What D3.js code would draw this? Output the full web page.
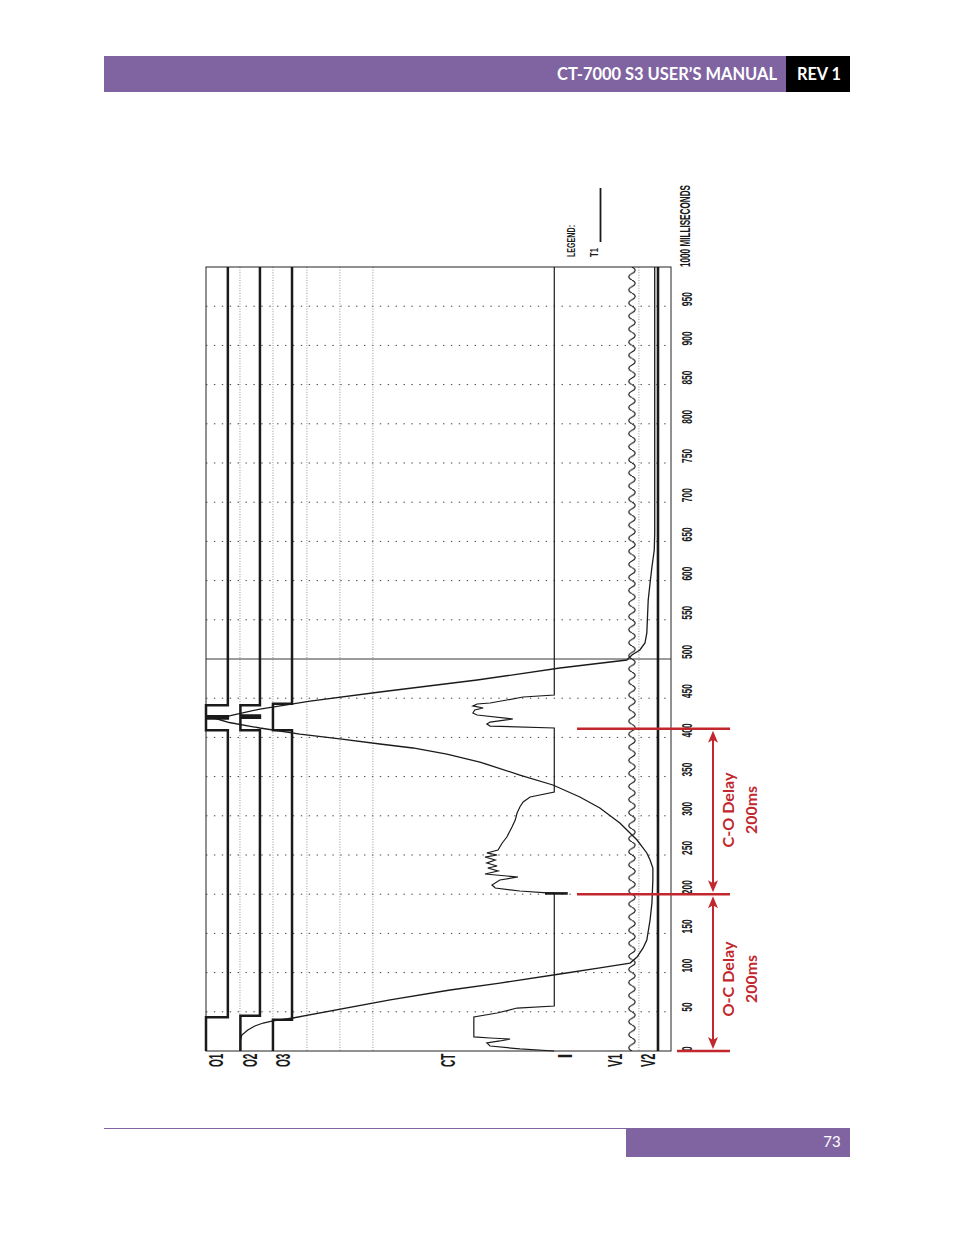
<!DOCTYPE html>
<html><head><meta charset="utf-8">
<script src="https://cdn.jsdelivr.net/npm/d3@7"></script>
<style>html,body{margin:0;padding:0;background:#fff;} svg{display:block;}</style>
</head><body>
<svg id="chart" width="954" height="1235"></svg>
<script>
// ================= DATA =================
const timeTicks = [0,50,100,150,200,250,300,350,400,450,500,550,600,650,700,750,800,850,900,950];
const timeTickLabels = ["0","50","100","150","200","250","300","350","400","450","500","550","600","650","700","750","800","850","900","950"];
const topTickLabel = "1000 MILLISECONDS";
const channelNames = ["O1","O2","O3","CT","I","V1","V2"];

// contact channels: transition times (ms) and state (0 open, 1 closed)
const o1Times  = [0, 43, 409, 424, 427, 441, 1000];
const o1States = [0, 1, 0, 1, 0, 1];
const o2Times  = [0, 45, 409, 425, 428, 441, 1000];
const o2States = [0, 1, 0, 1, 0, 1];
const o3Times  = [0, 40, 409, 443, 1000];
const o3States = [0, 1, 0, 1];

// travel T1 (time ms, position % of chart width)
const travelTimes = [0,14,20.4,26.8,31.9,35.7,38.3,42.1,65.1,77.8,86.7,98.2,105.9,112.2,119.9,131.4,141.6,167.1,188.8,218.1,233.4,243.6,252.6,269.1,290.8,310.0,324.0,339.3,352.0,368.6,378.8,386.5,391.6,398.0,404.3,412.0,419,423.5,428,436.2,446.4,457.9,473.2,488.5,498.7,505.1,511.5,520.4,533.2,575.3,597.0,617.3,639.0,660.7,1000];
const travelPos   = [7.4,7.4,7.7,9.0,10.5,12.3,14.4,18.7,39.6,52.5,63.2,76.1,84.7,91.2,92.7,94.0,94.8,95.5,95.9,96.1,96.1,95.5,94.8,92.7,89.0,84.7,80.4,74.6,67.5,58.9,51.8,44.5,37.4,28.8,20.2,11.6,5.0,2.4,5.5,11.6,22.4,37.4,58.3,76.1,90.5,91.6,93.3,94.4,94.8,95.1,95.5,95.9,96.4,96.5,96.5];

// coil current I (time ms, position %)
const coilTimes = [0,2.6,6.4,10.2,12.8,15.3,16.6,17.9,43.4,48.5,54.8,57.4,
  201.5,201.6,204.1,207.9,211.7,218.1,221.9,223.2,225.8,229.6,233.4,236.0,239.8,243.6,247.4,250.0,252.6,256.4,265.3,272.9,285.7,294.6,303.6,311.2,317.6,324.0,330.4,
  412.0,414.5,417.1,419.6,423.5,428.6,431.1,435.0,437.5,440.1,442.6,443.9,447.7,451.5,454.1,1000];
const coilPos = [74.9,67.5,61.1,60.4,63.2,65.4,61.1,57.6,57.6,62.6,66.9,74.9,
  74.9,73.3,67.5,62.2,61.5,63.2,67.1,64.7,60.0,62.8,60.6,62.6,60.4,62.2,60.0,62.6,60.4,62.8,63.7,64.7,65.8,66.5,66.9,67.5,68.2,69.7,74.9,
  74.9,61.1,60.4,61.1,66.0,58.3,57.4,57.8,59.6,57.4,58.3,61.1,64.7,68.2,74.9,74.9];
const coilMarkTime = [201];
const coilMarkSpan = [72.9, 77.8];

// V1 : AC voltage, V2 : steady level
const v1FrequencyHz = [60];
const v2Level = [97.2];

// annotations
const delayTimes = [411, 200, 0];
const delayLabels = [["C-O Delay","200ms"],["O-C Delay","200ms"]];

// ================= LAYOUT =================
const L = { left:206, right:671, top:267, bottom:1051 };
const contactLayout = { O1:[0,4.7], O2:[7.4,11.6], O3:[14.4,18.5] };
const guideLines = [7.3,14.4,21.7,28.8,35.9,93.1];
const v1Center = 91.6, v1Amp = 0.7;
const purple = "#8064A2", red = "#C1272D", ink = "#1a1a1a";

const svg = d3.select("#chart");
svg.append("rect").attr("width",954).attr("height",1235).attr("fill","#fff");

const y = d3.scaleLinear().domain([0,1000]).range([L.bottom, L.top]);
const x = d3.scaleLinear().domain([0,100]).range([L.left, L.right]);

// ---------- header / footer ----------
svg.append("rect").attr("x",104).attr("y",56).attr("width",683).attr("height",36).attr("fill",purple);
svg.append("rect").attr("x",786).attr("y",56).attr("width",64).attr("height",36).attr("fill","#000");
svg.append("text").attr("x",777).attr("y",80).attr("text-anchor","end")
  .attr("font-family","Lato, 'Open Sans', sans-serif").attr("font-weight",700).attr("font-size",16.5)
  .attr("fill","#fff").attr("textLength",220).attr("lengthAdjust","spacingAndGlyphs").text("CT-7000 S3 USER’S MANUAL");
svg.append("text").attr("x",797).attr("y",80)
  .attr("font-family","Lato, 'Open Sans', sans-serif").attr("font-weight",700).attr("font-size",16.5)
  .attr("fill","#fff").attr("textLength",44).attr("lengthAdjust","spacingAndGlyphs").text("REV 1");
svg.append("line").attr("x1",104).attr("x2",850).attr("y1",1128.5).attr("y2",1128.5).attr("stroke",purple).attr("stroke-width",1);
svg.append("rect").attr("x",626).attr("y",1128).attr("width",224).attr("height",29).attr("fill",purple);
svg.append("text").attr("x",832).attr("y",1146.5).attr("text-anchor","middle")
  .attr("font-family","Lato, 'Open Sans', sans-serif").attr("font-size",15).attr("fill","#fff").text("73");

// ---------- helper ----------
function vtext(g, px, py, str, o){
  const t = g.append("text").attr("transform",`translate(${px},${py}) rotate(-90)`)
    .attr("text-anchor",o.anchor||"start").attr("font-size",o.size)
    .attr("font-family",o.family||"'Liberation Sans Narrow','Liberation Sans',Arial,sans-serif")
    .attr("font-weight",o.weight||400).attr("fill",o.fill||ink).text(str);
  if (o.len) t.attr("textLength",o.len).attr("lengthAdjust","spacingAndGlyphs");
  return t;
}

const chart = svg.append("g");

// ---------- grid ----------
chart.selectAll("line.hgrid").data(timeTicks.filter(t=>t>0)).join("line")
  .attr("x1",L.left).attr("x2",L.right).attr("y1",d=>y(d)).attr("y2",d=>y(d))
  .attr("stroke",d=>d===500?"#222":"#444").attr("stroke-width",d=>d===500?0.9:1)
  .attr("stroke-dasharray",d=>d===500?null:"1.4,6.5");
chart.selectAll("line.vgrid").data(guideLines).join("line")
  .attr("x1",d=>x(d)).attr("x2",d=>x(d)).attr("y1",L.top).attr("y2",L.bottom)
  .attr("stroke","#888").attr("stroke-width",0.9).attr("stroke-dasharray","1,1.6");
chart.append("rect").attr("x",L.left).attr("y",L.top).attr("width",L.right-L.left).attr("height",L.bottom-L.top)
  .attr("fill","none").attr("stroke","#222").attr("stroke-width",1);

// ---------- time axis labels ----------
const axisG = svg.append("g");
timeTicks.forEach((t,i)=>{
  const s = timeTickLabels[i];
  vtext(axisG, 692, y(t), s, {size:14.5, weight:700, len:s.length*4.7});
});
vtext(axisG, 689.5, y(1000), topTickLabel, {size:14.5, weight:700, len:82});

// ---------- legend ----------
vtext(svg, 575, 257, "LEGEND:", {size:11, weight:700, len:32});
vtext(svg, 598, 257, "T1", {size:11, weight:700, len:9});
svg.append("line").attr("x1",600.5).attr("x2",600.5).attr("y1",188).attr("y2",242).attr("stroke",ink).attr("stroke-width",1.8);

// ---------- channel labels ----------
const chLabelX = {O1:223,O2:257,O3:290,CT:455,I:572,V1:622,V2:655};
channelNames.forEach(n=>{
  vtext(svg, chLabelX[n], 1053.5, n, {size:20, weight:700, anchor:"end", len:n.length===1?5:13.5});
});

// ---------- V1 wave (60 Hz, drawn as repeating cycle) ----------
const periodPx = y(0) - y(1000 / v1FrequencyHz[0]);
const ampPx = x(v1Amp) - x(0);
const cx = x(v1Center);
const defs = svg.append("defs");
const pat = defs.append("pattern").attr("id","v1wave").attr("patternUnits","userSpaceOnUse")
  .attr("x",cx-8).attr("y",y(1000)).attr("width",16).attr("height",periodPx);
pat.append("path")
  .attr("d",`M8,0 Q${8+2*ampPx},${periodPx/4} 8,${periodPx/2} Q${8-2*ampPx},${periodPx*3/4} 8,${periodPx}`)
  .attr("fill","none").attr("stroke",ink).attr("stroke-width",1.2);
chart.append("rect").attr("x",cx-8).attr("y",y(1000)).attr("width",16).attr("height",y(0)-y(1000))
  .attr("fill","url(#v1wave)");

// ---------- V2 ----------
chart.selectAll("line.v2").data(v2Level).join("line")
  .attr("x1",d=>x(d)).attr("x2",d=>x(d)).attr("y1",y(1000)).attr("y2",y(0))
  .attr("stroke",ink).attr("stroke-width",2.6);

// ---------- contacts ----------
const lineXY = d3.line().x(d=>d[0]).y(d=>d[1]);
function contactPts(times, states, lay){
  const pts = [];
  states.forEach((s,i)=>{
    const px = x(lay[s]);
    pts.push([px, y(times[i])]);
    pts.push([px, y(times[i+1])]);
  });
  return pts;
}
[[o1Times,o1States,contactLayout.O1],[o2Times,o2States,contactLayout.O2],[o3Times,o3States,contactLayout.O3]]
.forEach(([t,s,lay])=>{
  chart.append("path").attr("d",lineXY(contactPts(t,s,lay)))
    .attr("fill","none").attr("stroke",ink).attr("stroke-width",2.5).attr("stroke-linejoin","miter");
});

// ---------- I trace ----------
const coilLine = d3.line().x((d,i)=>x(coilPos[i])).y((d,i)=>y(coilTimes[i]));
chart.append("path").attr("d",coilLine(coilTimes)).attr("fill","none").attr("stroke",ink).attr("stroke-width",1.2);
chart.selectAll("line.mark").data(coilMarkTime).join("line")
  .attr("x1",x(coilMarkSpan[0])).attr("x2",x(coilMarkSpan[1])).attr("y1",d=>y(d)).attr("y2",d=>y(d))
  .attr("stroke",ink).attr("stroke-width",2.6);

// ---------- travel T1 ----------
const travelLine = d3.line().x((d,i)=>x(travelPos[i])).y((d,i)=>y(travelTimes[i]));
chart.append("path").attr("d",travelLine(travelTimes)).attr("fill","none").attr("stroke",ink).attr("stroke-width",1.3);

// ---------- red annotations ----------
const ann = svg.append("g");
const redSpans = [[577,730],[577,730],[677,730]];
delayTimes.forEach((t,i)=>{
  ann.append("line").attr("x1",redSpans[i][0]).attr("x2",redSpans[i][1]).attr("y1",y(t)).attr("y2",y(t))
    .attr("stroke",red).attr("stroke-width",2.6);
});
const ax = 713;
function arrowHead(px, py, dir){ // dir -1 points up, +1 points down
  ann.append("path").attr("transform",`translate(${px},${py}) scale(1,${dir<0?1:-1})`)
    .attr("d","M0,0 L-5,12 L0,9 L5,12 Z").attr("fill",red);
}
for (let k=0;k<2;k++){
  const y1 = y(delayTimes[k])+2, y2 = y(delayTimes[k+1])-2;
  ann.append("line").attr("x1",ax).attr("x2",ax).attr("y1",y1+6).attr("y2",y2-6).attr("stroke",red).attr("stroke-width",2);
  arrowHead(ax, y1, -1);
  arrowHead(ax, y2, 1);
  const cy = k===0 ? 810 : 979;
  vtext(ann, 734, cy, delayLabels[k][0], {size:15, weight:700, anchor:"middle", fill:red, family:"Lato,'Open Sans',sans-serif", len:75});
  vtext(ann, 757, cy, delayLabels[k][1], {size:15, weight:700, anchor:"middle", fill:red, family:"Lato,'Open Sans',sans-serif", len:48});
}
</script>
</body></html>
